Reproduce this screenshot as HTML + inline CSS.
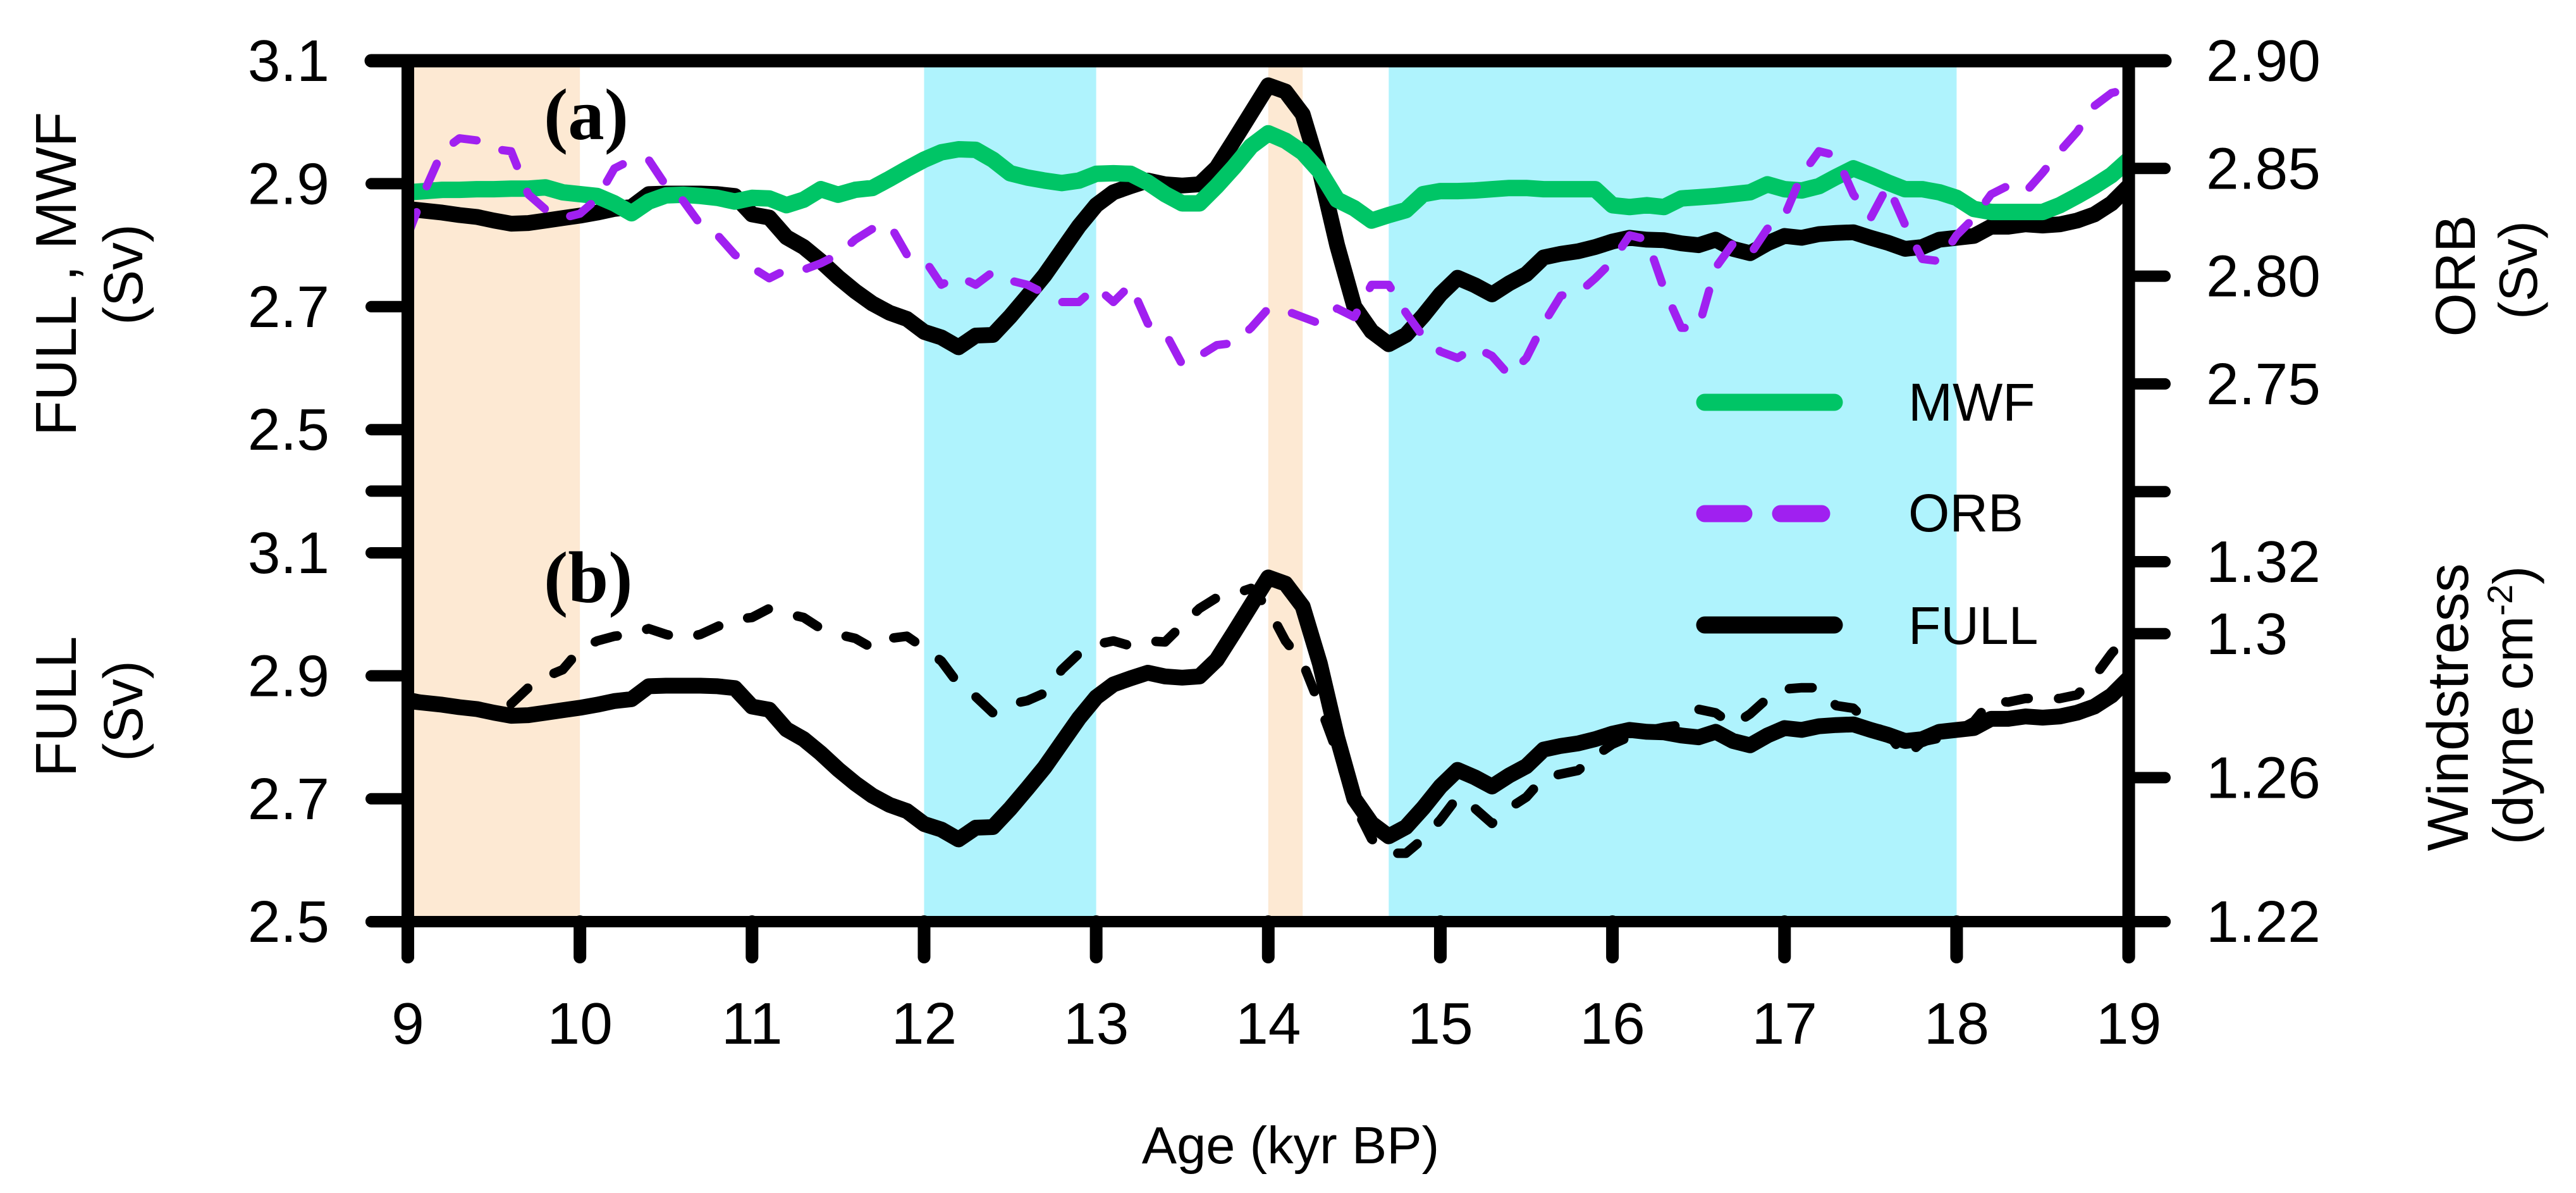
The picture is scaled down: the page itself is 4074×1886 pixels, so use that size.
<!DOCTYPE html>
<html lang="en">
<head>
<meta charset="utf-8">
<title>FULL, MWF, ORB and windstress vs age</title>
<style>
html,body{margin:0;padding:0;background:#fff;width:4074px;height:1886px;overflow:hidden}
svg{display:block;font-family:"Liberation Sans",Arial,sans-serif;fill:#000}
</style>
</head>
<body>
<svg id="chart" xmlns="http://www.w3.org/2000/svg" width="4074" height="1886" viewBox="0 0 4074 1886">
<rect x="0" y="0" width="4074" height="1886" fill="#fff"/>
<g id="bands"></g>
<g id="series"></g>
<g id="axes"></g>
<g id="ticklabels" font-size="93"></g>
<text x="2041" y="1839" font-size="83" text-anchor="middle">Age (kyr BP)</text>
<text transform="translate(120 433) rotate(-90)" font-size="91" text-anchor="middle">FULL , MWF</text>
<text transform="translate(225 434) rotate(-90)" font-size="87" text-anchor="middle">(Sv)</text>
<text transform="translate(120 1117) rotate(-90)" font-size="91" text-anchor="middle">FULL</text>
<text transform="translate(225 1124) rotate(-90)" font-size="87" text-anchor="middle">(Sv)</text>
<text transform="translate(3914 436) rotate(-90)" font-size="89" text-anchor="middle">ORB</text>
<text transform="translate(4012 427) rotate(-90)" font-size="85" text-anchor="middle">(Sv)</text>
<text transform="translate(3903 1118) rotate(-90)" font-size="92" text-anchor="middle">Windstress</text>
<text transform="translate(4005 1115) rotate(-90)" font-size="88" text-anchor="middle">(dyne cm<tspan font-size="56" dy="-32">-2</tspan><tspan dy="32">)</tspan></text>
<text x="860" y="220" font-family="Liberation Serif" font-weight="bold" font-size="115">(a)</text>
<text x="860" y="952" font-family="Liberation Serif" font-weight="bold" font-size="115">(b)</text>
<g>
<line x1="2696" x2="2901" y1="636" y2="636" stroke="#00c566" stroke-width="27" stroke-linecap="round"/>
<text x="3018" y="665" font-size="84">MWF</text>
<line x1="2696" x2="2758" y1="812" y2="812" stroke="#a020f0" stroke-width="27" stroke-linecap="round"/>
<line x1="2816" x2="2881" y1="812" y2="812" stroke="#a020f0" stroke-width="27" stroke-linecap="round"/>
<text x="3018" y="840" font-size="84">ORB</text>
<line x1="2696" x2="2901" y1="988" y2="988" stroke="#000" stroke-width="27" stroke-linecap="round"/>
<text x="3018" y="1018" font-size="84">FULL</text>
</g>
<script>
const ages = [
 9.0,9.1,9.2,9.3,9.4,9.5,9.6,9.7,9.8,9.9,
 10.0,10.1,10.2,10.3,10.4,10.5,10.6,10.7,10.8,10.9,
 11.0,11.1,11.2,11.3,11.4,11.5,11.6,11.7,11.8,11.9,
 12.0,12.1,12.2,12.3,12.4,12.5,12.6,12.7,12.8,12.9,
 13.0,13.1,13.2,13.3,13.4,13.5,13.6,13.7,13.8,13.9,
 14.0,14.1,14.2,14.3,14.4,14.5,14.6,14.7,14.8,14.9,
 15.0,15.1,15.2,15.3,15.4,15.5,15.6,15.7,15.8,15.9,
 16.0,16.1,16.2,16.3,16.4,16.5,16.6,16.7,16.8,16.9,
 17.0,17.1,17.2,17.3,17.4,17.5,17.6,17.7,17.8,17.9,
 18.0,18.1,18.2,18.3,18.4,18.5,18.6,18.7,18.8,18.9,
 19.0];
const fullSv = [
 2.859,2.856,2.853,2.849,2.846,2.840,2.835,2.836,2.840,2.844,
 2.848,2.853,2.859,2.862,2.883,2.884,2.884,2.884,2.883,2.880,
 2.850,2.845,2.813,2.797,2.774,2.748,2.725,2.705,2.690,2.680,
 2.659,2.650,2.634,2.653,2.654,2.684,2.717,2.751,2.791,2.831,
 2.865,2.886,2.896,2.905,2.899,2.897,2.899,2.926,2.970,3.015,
 3.060,3.050,3.013,2.920,2.800,2.700,2.660,2.639,2.654,2.685,
 2.720,2.747,2.735,2.720,2.738,2.753,2.780,2.786,2.790,2.797,
 2.806,2.812,2.809,2.808,2.803,2.800,2.809,2.794,2.787,2.803,
 2.815,2.812,2.818,2.820,2.821,2.812,2.804,2.794,2.797,2.809,
 2.812,2.815,2.830,2.830,2.834,2.832,2.834,2.840,2.850,2.868,
 2.896];
const mwfSv = [
 2.886,2.888,2.890,2.890,2.891,2.891,2.892,2.892,2.894,2.886,
 2.883,2.880,2.868,2.852,2.871,2.881,2.882,2.880,2.877,2.871,
 2.877,2.876,2.865,2.874,2.891,2.882,2.890,2.893,2.908,2.924,
 2.939,2.951,2.956,2.955,2.939,2.917,2.910,2.905,2.901,2.905,
 2.916,2.917,2.916,2.902,2.883,2.868,2.868,2.896,2.927,2.961,
 2.982,2.970,2.951,2.920,2.874,2.860,2.840,2.849,2.857,2.883,
 2.888,2.888,2.889,2.891,2.893,2.893,2.891,2.891,2.891,2.891,
 2.865,2.862,2.865,2.862,2.876,2.878,2.880,2.883,2.886,2.899,
 2.891,2.889,2.896,2.911,2.925,2.914,2.902,2.891,2.891,2.886,
 2.877,2.859,2.854,2.854,2.854,2.854,2.865,2.880,2.896,2.914,
 2.939];
const orbSv = [
 2.819,2.840,2.858,2.864,2.863,2.859,2.858,2.838,2.831,2.827,
 2.829,2.836,2.850,2.854,2.854,2.842,2.835,2.824,2.819,2.810,
 2.804,2.799,2.803,2.803,2.806,2.810,2.817,2.822,2.824,2.810,
 2.808,2.796,2.800,2.796,2.802,2.798,2.796,2.792,2.788,2.788,
 2.795,2.788,2.796,2.778,2.774,2.759,2.763,2.768,2.769,2.776,
 2.785,2.784,2.781,2.778,2.785,2.781,2.796,2.796,2.783,2.772,
 2.765,2.762,2.767,2.763,2.754,2.762,2.778,2.791,2.792,2.799,
 2.807,2.819,2.817,2.794,2.776,2.776,2.804,2.815,2.810,2.822,
 2.828,2.847,2.858,2.856,2.838,2.827,2.842,2.824,2.808,2.807,
 2.819,2.827,2.838,2.842,2.839,2.848,2.858,2.867,2.879,2.885,
 2.887];
const windstress = [
 1.2825,1.2815,1.2800,1.2795,1.2790,1.2785,1.2805,1.2850,1.2880,1.2900,
 1.2956,1.2980,1.2993,1.2998,1.3014,1.2998,1.2987,1.2998,1.3020,1.3040,
 1.3045,1.3070,1.3056,1.3045,1.3014,1.2998,1.2987,1.2960,1.2987,1.2993,
 1.2960,1.2924,1.2860,1.2825,1.2780,1.2804,1.2814,1.2835,1.2900,1.2945,
 1.2970,1.2980,1.2966,1.2980,1.2977,1.3024,1.3070,1.3100,1.3110,1.3126,
 1.3070,1.2980,1.2920,1.2800,1.2670,1.2525,1.2430,1.2390,1.2390,1.2430,
 1.2483,1.2546,1.2515,1.2473,1.2515,1.2546,1.2600,1.2610,1.2620,1.2660,
 1.2693,1.2714,1.2730,1.2740,1.2746,1.2790,1.2780,1.2746,1.2777,1.2820,
 1.2846,1.2850,1.2850,1.2800,1.2793,1.2746,1.2725,1.2657,1.2700,1.2710,
 1.2730,1.2756,1.2814,1.2810,1.2820,1.2820,1.2820,1.2830,1.2880,1.2945,
 1.2998];
const xTicks = [9,10,11,12,13,14,15,16,17,18,19];
const leftTopTicks = [3.1,2.9,2.7,2.5,2.4];
const leftTopLabels = ["3.1","2.9","2.7","2.5",""];
const leftBottomTicks = [3.1,2.9,2.7,2.5];
const leftBottomLabels = ["3.1","2.9","2.7","2.5"];
const orbTicks = [2.90,2.85,2.80,2.75,2.70];
const orbLabels = ["2.90","2.85","2.80","2.75",""];
const windTicks = [1.32,1.30,1.26,1.22];
const windLabels = ["1.32","1.3","1.26","1.22"];
const warmBands = [[9,10],[14,14.2]];
const coldBands = [[12,13],[14.7,18]];

const NS = 'http://www.w3.org/2000/svg';
const xAxis = k => 645 + (k - 9) * 272.16;
const yTop = v => 96 + (3.1 - v) * 972;
const yBottom = v => 874 + (3.1 - v) * 972;
const yOrb = v => 96 + (2.9 - v) * 3406;
const yWind = v => 1457 - (v - 1.22) * 5690;
const PLOT_TOP = 96, PLOT_BOTTOM = 1457, LEFT = 645, RIGHT = 3366.6;

function make(parent, tag, props) {
  const el = document.createElementNS(NS, tag);
  for (const key in props) el.setAttribute(key, props[key]);
  parent.appendChild(el);
  return el;
}
function linePath(values, yFn) {
  return values.map((v, i) => (i ? 'L' : 'M') + xAxis(ages[i]).toFixed(1) + ' ' + yFn(v).toFixed(1)).join('');
}

const bandsG = document.getElementById('bands');
warmBands.forEach(b => {
  const r = make(bandsG, 'rect', {x: xAxis(b[0]), y: PLOT_TOP, width: xAxis(b[1]) - xAxis(b[0]), height: PLOT_BOTTOM - PLOT_TOP, fill: '#fde9d3'});
  
  
});
coldBands.forEach(b => {
  const r = make(bandsG, 'rect', {x: xAxis(b[0]), y: PLOT_TOP, width: xAxis(b[1]) - xAxis(b[0]), height: PLOT_BOTTOM - PLOT_TOP, fill: '#aff3fd'});
  
  
});

const seriesG = document.getElementById('series');
const common = {fill: 'none', 'stroke-linejoin': 'round'};
let p;
p = make(seriesG, 'path', Object.assign({d: linePath(windstress, yWind), stroke: '#000', 'stroke-width': 15, 'stroke-dasharray': '36 48', 'stroke-linecap': 'round'}, common));


p = make(seriesG, 'path', Object.assign({d: linePath(fullSv, yBottom), stroke: '#000', 'stroke-width': 25}, common));


p = make(seriesG, 'path', Object.assign({d: linePath(fullSv, yTop), stroke: '#000', 'stroke-width': 25}, common));


p = make(seriesG, 'path', Object.assign({d: linePath(mwfSv, yTop), stroke: '#00c566', 'stroke-width': 26}, common));


p = make(seriesG, 'path', Object.assign({d: linePath(orbSv, yOrb), stroke: '#a020f0', 'stroke-width': 13, 'stroke-dasharray': '39 44', 'stroke-linecap': 'round'}, common));



const axesG = document.getElementById('axes');
const labelsG = document.getElementById('ticklabels');
const axisStyle = {stroke: '#000', 'stroke-linecap': 'round'};
function axisLine(x1, y1, x2, y2, w, name) {
  const l = make(axesG, 'line', Object.assign({x1: x1, y1: y1, x2: x2, y2: y2, 'stroke-width': w}, axisStyle));
  
  
}
axisLine(587, PLOT_TOP, 3424, PLOT_TOP, 21, 'top-axis-line');
axisLine(587, PLOT_BOTTOM, 3424, PLOT_BOTTOM, 18, 'bottom-axis-line');
axisLine(LEFT, PLOT_TOP, LEFT, 1513, 20, 'left-axis-line');
axisLine(RIGHT, PLOT_TOP, RIGHT, 1513, 20, 'right-axis-line');

function leftTicks(ticks, labels, yFn) {
  ticks.forEach((v, i) => {
    const y = yFn(v);
    axisLine(587, y, LEFT, y, 18, 'left-tick');
    if (labels[i]) {
      const t = make(labelsG, 'text', {x: 521, y: y + 32, 'text-anchor': 'end'});
      t.textContent = labels[i];
      
      
    }
  });
}
function rightTicks(ticks, labels, yFn) {
  ticks.forEach((v, i) => {
    const y = yFn(v);
    axisLine(RIGHT, y, 3424, y, 18, 'right-tick');
    if (labels[i]) {
      const t = make(labelsG, 'text', {x: 3489, y: y + 32});
      t.textContent = labels[i];
      
      
    }
  });
}
leftTicks(leftTopTicks, leftTopLabels, yTop);
leftTicks(leftBottomTicks, leftBottomLabels, yBottom);
rightTicks(orbTicks, orbLabels, yOrb);
rightTicks(windTicks, windLabels, yWind);

xTicks.forEach(k => {
  axisLine(xAxis(k), PLOT_BOTTOM, xAxis(k), 1513, 20, 'x-tick');
  const t = make(labelsG, 'text', {x: xAxis(k), y: 1650, 'text-anchor': 'middle'});
  t.textContent = String(k);
  
  
});
</script>
</svg>
</body>
</html>
